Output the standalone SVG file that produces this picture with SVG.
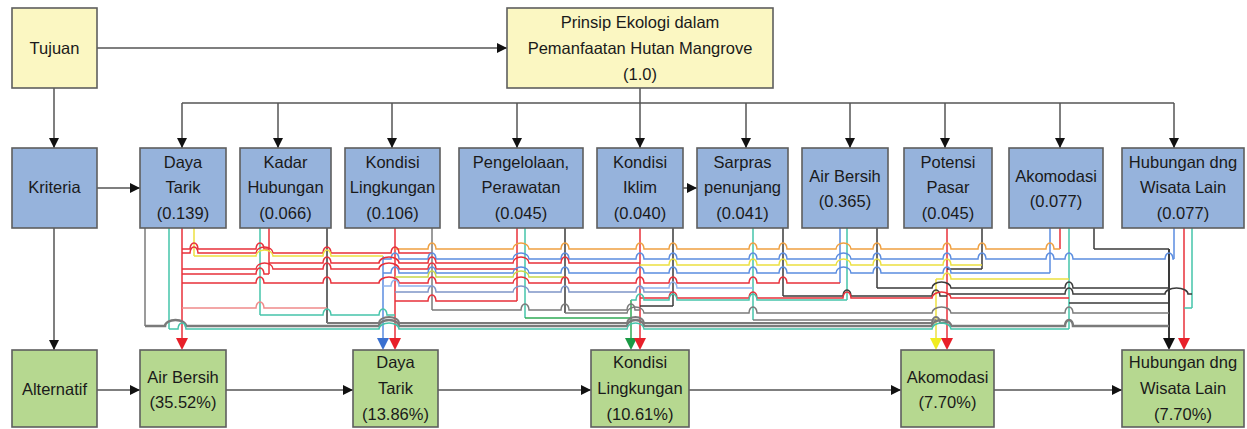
<svg xmlns="http://www.w3.org/2000/svg" width="1247" height="429" viewBox="0 0 1247 429">
<defs>
<marker id="ah" viewBox="0 0 10 10" markerWidth="10" markerHeight="12" refX="10" refY="5" orient="auto" markerUnits="userSpaceOnUse"><path d="M0,0 L10,5 L0,10 z" fill="#111"/></marker>
</defs>
<style>
.box{stroke:#5e5e5e;stroke-width:1.6}
.y{fill:#fbf7c2}.b{fill:#96b3dc}.g{fill:#b6d890}
text{font-family:"Liberation Sans",Arial,sans-serif;font-size:16.5px;fill:#1a1a1a;text-anchor:middle}
.m{stroke:#555;stroke-width:1.5;fill:none}
.ma{stroke:#555;stroke-width:1.5;fill:none;marker-end:url(#ah)}
.t{fill:none;stroke-width:1.5}
.red{stroke:#e8303a}.org{stroke:#f0a040}.yel{stroke:#ece040}.ygr{stroke:#c8d84a}.blu{stroke:#5b8de0}.lbl{stroke:#90b4ee}.grn{stroke:#2faa55}.tea{stroke:#45c4aa}.gry{stroke:#7a7a7a}.drk{stroke:#3a3a3a}.lrd{stroke:#f08a8a}.bgr{stroke:#7f95c8}
</style>

<g id="connectors">
<path class="ma" d="M97,48 H507"/>
<path class="ma" d="M54,88 V148"/>
<path class="ma" d="M97,188 H140"/>
<path class="ma" d="M54,228 V350"/>
<path class="ma" d="M683,188 H697"/>
<path class="m" d="M640,88 V103 M182,103 H1174"/>
<path class="ma" d="M182,103 V148"/>
<path class="ma" d="M278,103 V148"/>
<path class="ma" d="M392,103 V148"/>
<path class="ma" d="M517,103 V148"/>
<path class="ma" d="M640,103 V148"/>
<path class="ma" d="M746,103 V148"/>
<path class="ma" d="M850,103 V148"/>
<path class="ma" d="M945,103 V148"/>
<path class="ma" d="M1060,103 V148"/>
<path class="ma" d="M1174,103 V148"/>
<path class="ma" d="M97,390 H140"/>
<path class="ma" d="M226,390 H353"/>
<path class="ma" d="M438,390 H591"/>
<path class="ma" d="M689,390 H901"/>
<path class="ma" d="M994,390 H1122"/>

<g id="verticals">
<path class="t gry" d="M145,228 V326"/>
<path class="t tea" d="M169,228 V329"/>
<path class="t red" d="M182,228 V340"/>
<path class="t yel" d="M194,228 V256"/>
<path class="t tea" d="M260,228 V315"/>
<path class="t red" d="M269,228 V274"/>
<path class="t drk" d="M327,228 V323"/>
<path class="t blu" d="M383,256 V340"/>
<path class="t red" d="M395,228 V340"/>
<path class="t gry" d="M432,228 V310"/>
<path class="t red" d="M517,228 V301"/>
<path class="t tea" d="M525,228 V318"/>
<path class="t drk" d="M565,228 V313"/>
<path class="t grn" d="M631,300 V340"/>
<path class="t red" d="M640,228 V340"/>
<path class="t drk" d="M673,228 V306"/>
<path class="t tea" d="M753,228 V320"/>
<path class="t drk" d="M783,228 V296"/>
<path class="t blu" d="M840,228 V283"/>
<path class="t tea" d="M847,228 V300"/>
<path class="t drk" d="M877,228 V288"/>
<path class="t yel" d="M936,279 V340"/>
<path class="t red" d="M947,228 V340"/>
<path class="t drk" d="M982,228 V269"/>
<path class="t blu" d="M1050,228 V273"/>
<path class="t red" d="M1060,228 V249"/>
<path class="t tea" d="M1069,228 V329"/>
<path class="t drk" d="M1094,228 V249"/>
<path class="t drk" d="M1169,249 V340" style="stroke-width:2"/>
<path class="t blu" d="M1174,228 V259"/>
<path class="t red" d="M1184,228 V340"/>
<path class="t tea" d="M1192,228 V308"/>
</g>

<g id="tracks">
<path class="t red" d="M182,249 H190 A4,6 0 0 1 198,249 H256 A4,6 0 0 1 264,249 H269"/>
<path class="t org" d="M395,249 H428 A4,6 0 0 1 436,249 H513 A8,6 0 0 1 529,249 H561 A4,6 0 0 1 569,249 H636 A4,6 0 0 1 644,249 H669 A4,6 0 0 1 677,249 H749 A4,6 0 0 1 757,249 H779 A4,6 0 0 1 787,249 H836 A7.5,6 0 0 1 851,249 H873 A4,6 0 0 1 881,249 H943 A4,6 0 0 1 951,249 H978 A4,6 0 0 1 986,249 H1046 A4,6 0 0 1 1054,249 H1060"/>
<path class="t drk" d="M1094,249 H1169"/>
<path class="t red" d="M182,253 H190 A4,6 0 0 1 198,253 H256 A8.5,6 0 0 1 273,253 H323 A4,6 0 0 1 331,253 H391 A4,6 0 0 1 399,253 H432"/>
<path class="t yel" d="M194,256 H256 A8.5,6 0 0 1 273,256 H323 A4,6 0 0 1 331,256 H383"/>
<path class="t blu" d="M383,259 H391 A4,6 0 0 1 399,259 H428 A4,6 0 0 1 436,259 H513 A8,6 0 0 1 529,259 H561 A4,6 0 0 1 569,259 H636 A4,6 0 0 1 644,259 H669 A4,6 0 0 1 677,259 H749 A4,6 0 0 1 757,259 H779 A4,6 0 0 1 787,259 H836 A7.5,6 0 0 1 851,259 H873 A4,6 0 0 1 881,259 H943 A4,6 0 0 1 951,259 H978 A4,6 0 0 1 986,259 H1046 A4,6 0 0 1 1054,259 H1065 A4,6 0 0 1 1073,259 H1165 A4,6 0 0 1 1173,259 H1174"/>
<path class="t red" d="M269,263 H323 A4,6 0 0 1 331,263 H379 A10,6 0 0 1 399,263 H428 A4,6 0 0 1 436,263 H513 A8,6 0 0 1 529,263 H561 A4,6 0 0 1 569,263 H640"/>
<path class="t yel" d="M640,265 H669 A4,6 0 0 1 677,265 H749 A4,6 0 0 1 757,265 H779 A4,6 0 0 1 787,265 H836 A7.5,6 0 0 1 851,265 H873 A4,6 0 0 1 881,265 H943 A4,6 0 0 1 951,265 H982"/>
<path class="t red" d="M182,269 H256 A8.5,6 0 0 1 273,269 H323 A4,6 0 0 1 331,269 H379 A10,6 0 0 1 399,269 H428 A4,6 0 0 1 436,269 H517"/>
<path class="t drk" d="M947,269 H982"/>
<path class="t blu" d="M383,273 H391 A4,6 0 0 1 399,273 H428 A4,6 0 0 1 436,273 H513 A8,6 0 0 1 529,273 H561 A4,6 0 0 1 569,273 H636 A4,6 0 0 1 644,273 H669 A4,6 0 0 1 677,273 H749 A4,6 0 0 1 757,273 H779 A4,6 0 0 1 787,273 H836 A7.5,6 0 0 1 851,273 H873 A4,6 0 0 1 881,273 H943 A4,6 0 0 1 951,273 H1050"/>
<path class="t red" d="M182,274 H256 A4,6 0 0 1 264,274 H269"/>
<path class="t ygr" d="M395,277 H428 A4,6 0 0 1 436,277 H513 A8,6 0 0 1 529,277 H565"/>
<path class="t yel" d="M936,279 H943 A4,6 0 0 1 951,279 H1069"/>
<path class="t red" d="M182,283 H256 A4,6 0 0 1 264,283 H323 A4,6 0 0 1 331,283 H379 A10,6 0 0 1 399,283 H428 A4,6 0 0 1 436,283 H513 A8,6 0 0 1 529,283 H561 A4,6 0 0 1 569,283 H636 A4,6 0 0 1 644,283 H669 A4,6 0 0 1 677,283 H749 A4,6 0 0 1 757,283 H779 A4,6 0 0 1 787,283 H840"/>
<path class="t lbl" d="M383,286 H391 A4,6 0 0 1 399,286 H432"/>
<path class="t drk" d="M877,288 H932 A9.5,6 0 0 1 951,288 H1065 A4,6 0 0 1 1073,288 H1169"/>
<path class="t lbl" d="M640,288 H669 A4,6 0 0 1 677,288 H753"/>
<path class="t bgr" d="M395,292 H428 A4,6 0 0 1 436,292 H513 A8,6 0 0 1 529,292 H561 A4,6 0 0 1 569,292 H636 A4,6 0 0 1 644,292 H673"/>
<path class="t drk" d="M947,294 H1065 A4,6 0 0 1 1073,294 H1165 A11.5,6 0 0 1 1188,294 H1192"/>
<path class="t drk" d="M783,296 H843 A4,6 0 0 1 851,296 H932 A4,6 0 0 1 940,296 H947"/>
<path class="t red" d="M640,298 H669 A4,6 0 0 1 677,298 H749 A4,6 0 0 1 757,298 H843 A4,6 0 0 1 851,298 H932 A9.5,6 0 0 1 951,298 H1069"/>
<path class="t tea" d="M631,300 H636 A4,6 0 0 1 644,300 H669 A4,6 0 0 1 677,300 H749 A4,6 0 0 1 757,300 H847"/>
<path class="t red" d="M395,301 H428 A4,6 0 0 1 436,301 H517"/>
<path class="t drk" d="M1069,303 H1169"/>
<path class="t drk" d="M640,306 H673"/>
<path class="t lrd" d="M182,308 H256 A4,6 0 0 1 264,308 H327"/>
<path class="t tea" d="M1184,308 H1192"/>
<path class="t gry" d="M432,310 H521 A4,6 0 0 1 529,310 H561 A4,6 0 0 1 569,310 H627 A4,6 0 0 1 635,310 H640"/>
<path class="t gry" d="M565,313 H627 A8.5,6 0 0 1 644,313 H749 A4,6 0 0 1 757,313 H932 A9.5,6 0 0 1 951,313 H1065 A4,6 0 0 1 1073,313 H1169"/>
<path class="t tea" d="M260,315 H323 A4,6 0 0 1 331,315 H379 A4,6 0 0 1 387,315 H395"/>
<path class="t grn" d="M525,318 H631"/>
<path class="t gry" d="M753,320 H936"/>
<path class="t gry" style="stroke-width:2" d="M327,323 H379 A10,6 0 0 1 399,323 H627 A8.5,6 0 0 1 644,323 H932 A4,6 0 0 1 940,323 H947"/>
<path class="t gry" style="stroke-width:2.5" d="M145,326 H165 A10.5,6 0 0 1 186,326 H379 A10,6 0 0 1 399,326 H627 A8.5,6 0 0 1 644,326 H932 A9.5,6 0 0 1 951,326 H1065 A4,6 0 0 1 1073,326 H1169"/>
<path class="t tea" d="M169,329 H178 A4,6 0 0 1 186,329 H379 A10,6 0 0 1 399,329 H627 A8.5,6 0 0 1 644,329 H932 A9.5,6 0 0 1 951,329 H1069"/>
</g>

<g id="arrowheads">
<polygon points="176,338 188,338 182,350" fill="#e8202a"/>
<polygon points="377,338 389,338 383,350" fill="#3a70d0"/>
<polygon points="389,338 401,338 395,350" fill="#e8202a"/>
<polygon points="625,338 637,338 631,350" fill="#1a9a45"/>
<polygon points="634,338 646,338 640,350" fill="#e8202a"/>
<polygon points="930,338 942,338 936,350" fill="#f0ec20"/>
<polygon points="941,338 953,338 947,350" fill="#e8202a"/>
<polygon points="1163,338 1175,338 1169,350" fill="#111"/>
<polygon points="1178,338 1190,338 1184,350" fill="#e8202a"/>
</g>
</g>

<g id="tujuan"><rect class="box y" x="12" y="8" width="85" height="80"/><text x="54.5" y="54">Tujuan</text></g>
<g id="goal"><rect class="box y" x="507" y="8" width="266" height="80"/><text x="640" y="28">Prinsip Ekologi dalam</text><text x="640" y="54">Pemanfaatan Hutan Mangrove</text><text x="640" y="80">(1.0)</text></g>

<g id="kriteria"><rect class="box b" x="12" y="148" width="85" height="80"/><text x="54.5" y="193">Kriteria</text></g>
<g id="c-daya-tarik"><rect class="box b" x="140" y="148" width="86" height="80"/><text x="183" y="168">Daya</text><text x="183" y="193">Tarik</text><text x="183" y="219">(0.139)</text></g>
<g id="c-kadar-hubungan"><rect class="box b" x="240" y="148" width="91" height="80"/><text x="285.5" y="168">Kadar</text><text x="285.5" y="193">Hubungan</text><text x="285.5" y="219">(0.066)</text></g>
<g id="c-kondisi-lingkungan"><rect class="box b" x="345" y="148" width="95" height="80"/><text x="392.5" y="168">Kondisi</text><text x="392.5" y="193">Lingkungan</text><text x="392.5" y="219">(0.106)</text></g>
<g id="c-pengelolaan"><rect class="box b" x="459" y="148" width="124" height="80"/><text x="521" y="168">Pengelolaan,</text><text x="521" y="193">Perawatan</text><text x="521" y="219">(0.045)</text></g>
<g id="c-kondisi-iklim"><rect class="box b" x="597" y="148" width="86" height="80"/><text x="640" y="168">Kondisi</text><text x="640" y="193">Iklim</text><text x="640" y="219">(0.040)</text></g>
<g id="c-sarpras"><rect class="box b" x="697" y="148" width="91" height="80"/><text x="742.5" y="168">Sarpras</text><text x="742.5" y="193">penunjang</text><text x="742.5" y="219">(0.041)</text></g>
<g id="c-air-bersih"><rect class="box b" x="802" y="148" width="86" height="80"/><text x="845" y="182">Air Bersih</text><text x="845" y="207">(0.365)</text></g>
<g id="c-potensi-pasar"><rect class="box b" x="904" y="148" width="88" height="80"/><text x="948" y="168">Potensi</text><text x="948" y="193">Pasar</text><text x="948" y="219">(0.045)</text></g>
<g id="c-akomodasi"><rect class="box b" x="1009" y="148" width="94" height="80"/><text x="1056" y="182">Akomodasi</text><text x="1056" y="207">(0.077)</text></g>
<g id="c-hubungan"><rect class="box b" x="1122" y="148" width="122" height="80"/><text x="1183" y="168">Hubungan dng</text><text x="1183" y="193">Wisata Lain</text><text x="1183" y="219">(0.077)</text></g>

<g id="alternatif"><rect class="box g" x="12" y="350" width="85" height="77"/><text x="54.5" y="395">Alternatif</text></g>
<g id="a-air-bersih"><rect class="box g" x="140" y="350" width="86" height="77"/><text x="183" y="383">Air Bersih</text><text x="183" y="408">(35.52%)</text></g>
<g id="a-daya-tarik"><rect class="box g" x="353" y="350" width="85" height="77"/><text x="395.5" y="368">Daya</text><text x="395.5" y="394">Tarik</text><text x="395.5" y="420">(13.86%)</text></g>
<g id="a-kondisi-lingkungan"><rect class="box g" x="591" y="350" width="98" height="77"/><text x="640" y="368">Kondisi</text><text x="640" y="394">Lingkungan</text><text x="640" y="420">(10.61%)</text></g>
<g id="a-akomodasi"><rect class="box g" x="901" y="350" width="93" height="77"/><text x="947.5" y="383">Akomodasi</text><text x="947.5" y="408">(7.70%)</text></g>
<g id="a-hubungan"><rect class="box g" x="1122" y="350" width="122" height="77"/><text x="1183" y="368">Hubungan dng</text><text x="1183" y="394">Wisata Lain</text><text x="1183" y="420">(7.70%)</text></g>
</svg>
